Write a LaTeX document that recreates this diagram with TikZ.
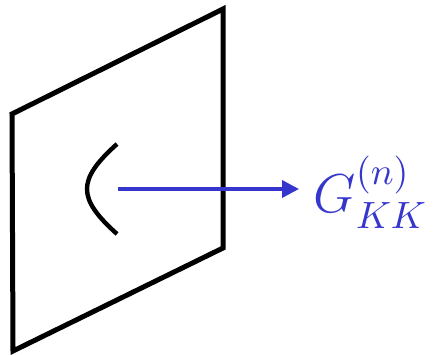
\documentclass[tikz,border=0pt]{standalone}
\usepackage{amsmath}
\usepackage{xcolor}
\usetikzlibrary{arrows.meta,calc}
\definecolor{gblue}{HTML}{3636CC}
\tikzset{
  plane/.style={draw=black,line width=5pt,line join=miter},
  cut/.style={draw=black,line width=4.4pt},
  ar/.style={-{Triangle[length=17pt,width=17pt]},draw=gblue,line width=3.6pt},
  lab/.style={text=gblue,inner sep=0pt,font=\Large,scale=3.8,transform shape},
}
\begin{document}
\begin{tikzpicture}[x=1pt,y=-1pt]
  \useasboundingbox (0,0) rectangle (436,355);
  % plane
  \coordinate (tl) at (12,114);
  \coordinate (tr) at (223,9);
  \coordinate (br) at (223,248);
  \coordinate (bl) at (13,351);
  \draw[plane] (tl) -- (tr) -- (br) -- (bl) -- cycle;
  % curve on the plane
  \coordinate (ctop) at (117,144);
  \coordinate (cbot) at (117,234);
  \draw[cut] (ctop) .. controls (77,180) and (77,198) .. (cbot);
  % propagator
  \coordinate (src) at (118,189);
  \node[lab,anchor=base west] (prop) at (313,213) {$G^{(n)}_{KK}$};
  \draw[ar] (src) -- ($(src -| prop.west)+(-14,0)$);
\end{tikzpicture}
\end{document}
